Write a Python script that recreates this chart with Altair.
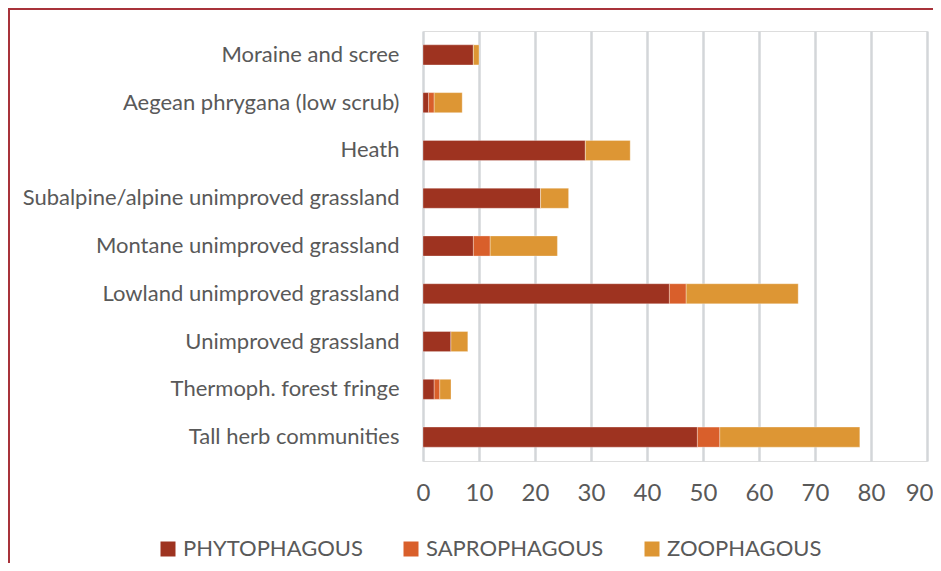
import altair as alt
import pandas as pd

categories = [
    "Moraine and scree",
    "Aegean phrygana (low scrub)",
    "Heath",
    "Subalpine/alpine unimproved grassland",
    "Montane unimproved grassland",
    "Lowland unimproved grassland",
    "Unimproved grassland",
    "Thermoph. forest fringe",
    "Tall herb communities",
]
phytophagous = [9, 1, 29, 21, 9, 44, 5, 2, 49]
saprophagous = [0, 1, 0, 0, 3, 3, 0, 1, 4]
zoophagous = [1, 5, 8, 5, 12, 20, 3, 2, 25]
groups = ["PHYTOPHAGOUS", "SAPROPHAGOUS", "ZOOPHAGOUS"]
colors = ["#9E3320", "#D95F2B", "#DD9634"]
x_ticks = [0, 10, 20, 30, 40, 50, 60, 70, 80, 90]

rows = []
for i, c in enumerate(categories):
    for g, vals in zip(groups, [phytophagous, saprophagous, zoophagous]):
        rows.append({"category": c, "group": g, "value": vals[i], "order": groups.index(g)})
df = pd.DataFrame(rows)

FONT = "Lato"
W, H = 504, 430

bars = alt.Chart(df).mark_bar(stroke="white", strokeWidth=0.5, strokeOpacity=0.6).encode(
    y=alt.Y("category:N", sort=categories,
            scale=alt.Scale(paddingInner=0.58, paddingOuter=0.29),
            axis=alt.Axis(title=None, labelFontSize=22, labelColor="#595959", labelFont=FONT,
                          ticks=False, domain=False, labelPadding=24, grid=False, labelLimit=450)),
    x=alt.X("value:Q", stack="zero",
            scale=alt.Scale(domain=[0, 90], nice=False),
            axis=alt.Axis(title=None, values=x_ticks, labelFontSize=24, labelColor="#595959",
                          labelFont=FONT, domain=False, ticks=False, labelPadding=20,
                          labelFlush=False,
                          labelAlign={"condition": {"test": "datum.value == 90", "value": "right"},
                                      "value": "center"},
                          labelOffset={"condition": {"test": "datum.value == 90", "value": 6},
                                       "value": 0},
                          gridColor="#D3D6D9", gridWidth=2.5)),
    color=alt.Color("group:N", sort=groups,
                    scale=alt.Scale(domain=groups, range=colors),
                    legend=alt.Legend(title=None, orient="none", direction="horizontal",
                                      legendX=-266, legendY=507, symbolType="square",
                                      symbolSize=225, symbolStrokeWidth=0, labelFontSize=22,
                                      labelFont=FONT, labelColor="#595959", columnPadding=37,
                                      labelOffset=4, labelLimit=400)),
    order=alt.Order("order:Q"),
)

border = alt.Chart(pd.DataFrame({"a": [0]})).mark_rect(
    fill=None, stroke="#A8323A", strokeWidth=2, clip=False
).encode(
    x=alt.value(-414), x2=alt.value(W + 40), y=alt.value(-22), y2=alt.value(H + 200)
)

chart = alt.layer(border, bars).properties(
    width=W, height=H,
    autosize=alt.AutoSizeParams(type="none"),
    padding={"left": 415, "top": 23, "right": 6, "bottom": 102},
).configure_view(stroke=None).configure(font=FONT, background="white")

chart.save("out.html", embed_options={"renderer": "svg", "actions": False})
